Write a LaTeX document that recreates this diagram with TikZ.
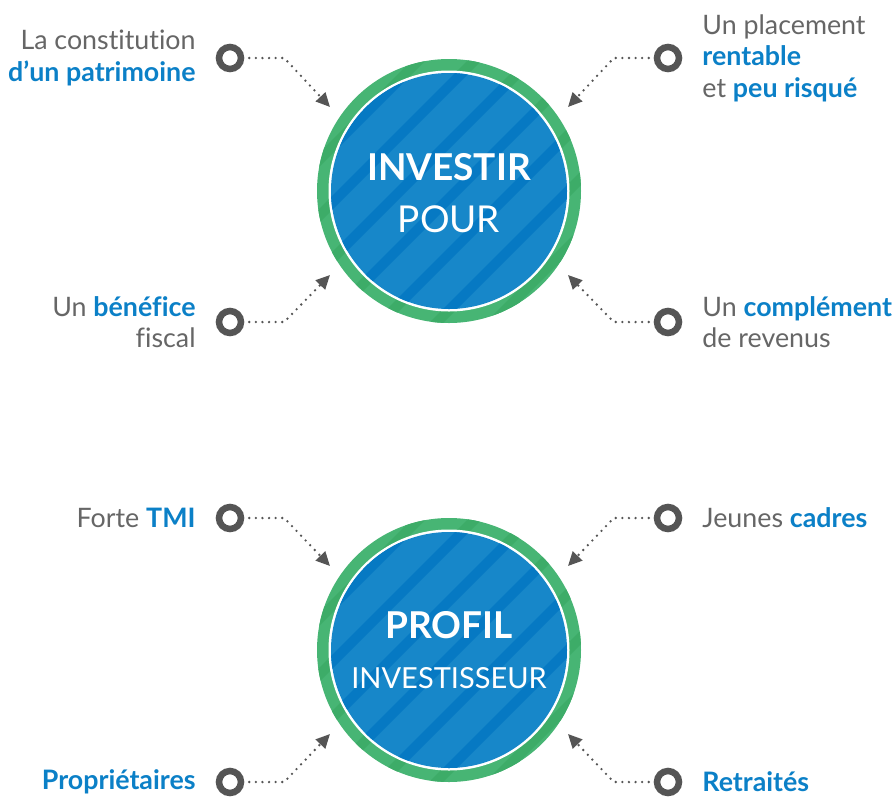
\documentclass[tikz,border=0pt]{standalone}
\usepackage{fontspec}
\setmainfont{Lato}[Ligatures=NoCommon]
\usepackage{xcolor}
\usetikzlibrary{arrows.meta,positioning}

\definecolor{ringgreen}{HTML}{47B574}
\definecolor{ringdark}{HTML}{3DAC68}
\definecolor{discblue}{HTML}{1787C9}
\definecolor{stripeblue}{HTML}{0679C3}
\definecolor{dotgray}{HTML}{555555}
\definecolor{textgray}{HTML}{666666}
\definecolor{keyblue}{HTML}{0B80C7}

\newcommand{\key}[1]{{\bfseries\color{keyblue}#1}}

\begin{document}
\begin{tikzpicture}[
    x=1pt, y=-1pt,
    dot/.style={circle, draw=dotgray, line width=6.5pt, minimum size=22pt, inner sep=0pt},
    lbl/.style={text=textgray, font=\fontsize{26.8}{31.5}\selectfont, inner sep=0pt, node distance=20pt},
    link/.style={dotgray, line width=2.6pt, line cap=round, dash pattern=on 0pt off 6.6pt,
                 shorten <=5pt, -{Triangle[length=14pt, width=13pt]}},
    title/.style={text=white, font=\bfseries\fontsize{37}{37}\selectfont, inner sep=0pt},
    subtitle/.style={text=white, font=\fontsize{37}{37}\selectfont, inner sep=0pt}
]
\useasboundingbox (0,0) rectangle (895,796);

% Discs
\foreach \cy in {191,650} {
  \begin{scope}[shift={(449,\cy)}]
    \fill[ringgreen] (0,0) circle (132pt);
    \begin{scope}
      \clip (0,0) circle (132pt);
      \foreach \k in {-5,...,5}
        \fill[ringdark] (\k*56-150,150) -- (\k*56+150,-150) -- ++(14,0) -- (\k*56-136,150) -- cycle;
    \end{scope}
    \fill[white] (0,0) circle (120.5pt);
    \fill[discblue] (0,0) circle (118pt);
    \begin{scope}
      \clip (0,0) circle (118pt);
      \foreach \k in {-5,...,5}
        \fill[stripeblue] (\k*56-150,150) -- (\k*56+150,-150) -- ++(14,0) -- (\k*56-136,150) -- cycle;
    \end{scope}
  \end{scope}
}

% Disc texts
\node[title, anchor=base] (investir) at (449,180) {INVESTIR};
\node[subtitle, anchor=base] (pour) at (449,232) {POUR};
\node[title, anchor=base] (profil) at (449,638) {PROFIL};
\node[subtitle, anchor=base, font=\fontsize{29}{29}\selectfont] (investisseur) at (449,688) {INVESTISSEUR};

% Dots
\node[dot] (tl-dot) at (230,58) {};
\node[dot] (tr-dot) at (668,58) {};
\node[dot] (bl-dot) at (230,322) {};
\node[dot] (br-dot) at (668,322) {};
\node[dot] (tmi-dot) at (230,518) {};
\node[dot] (cadres-dot) at (668,518) {};
\node[dot] (proprio-dot) at (230,782) {};
\node[dot] (retraite-dot) at (668,782) {};

% Labels
\node[lbl, left=of tl-dot, align=right] (tl-txt) {La constitution\\\key{d'un patrimoine}};
\node[lbl, right=of tr-dot, align=left] (tr-txt) {Un placement\\\key{rentable}\\et \key{peu risqué}};
\node[lbl, left=of bl-dot, align=right] (bl-txt) {Un \key{bénéfice}\\fiscal};
\node[lbl, right=of br-dot, align=left] (br-txt) {Un \key{complément}\\de revenus};
\node[lbl, left=of tmi-dot] (tmi-txt) {Forte \key{TMI}};
\node[lbl, right=of cadres-dot] (cadres-txt) {Jeunes \key{cadres}};
\node[lbl, left=of proprio-dot] (proprio-txt) {\key{Propriétaires}};
\node[lbl, right=of retraite-dot] (retraite-txt) {\key{Retraités}};

% Arrow tips on the discs
\coordinate (tl-tip) at (330,107);
\coordinate (tr-tip) at (568,107);
\coordinate (bl-tip) at (330,275);
\coordinate (br-tip) at (568,275);
\coordinate (tmi-tip) at (330,566);
\coordinate (cadres-tip) at (568,566);
\coordinate (proprio-tip) at (330,734);
\coordinate (retraite-tip) at (568,734);

% Arrows
\draw[link] (tl-dot.east) -- ++(40,0) -- (tl-tip);
\draw[link] (tr-dot.west) -- ++(-40,0) -- (tr-tip);
\draw[link] (bl-dot.east) -- ++(40,0) -- (bl-tip);
\draw[link] (br-dot.west) -- ++(-40,0) -- (br-tip);
\draw[link] (tmi-dot.east) -- ++(40,0) -- (tmi-tip);
\draw[link] (cadres-dot.west) -- ++(-40,0) -- (cadres-tip);
\draw[link] (proprio-dot.east) -- ++(40,0) -- (proprio-tip);
\draw[link] (retraite-dot.west) -- ++(-40,0) -- (retraite-tip);

\end{tikzpicture}
\end{document}
